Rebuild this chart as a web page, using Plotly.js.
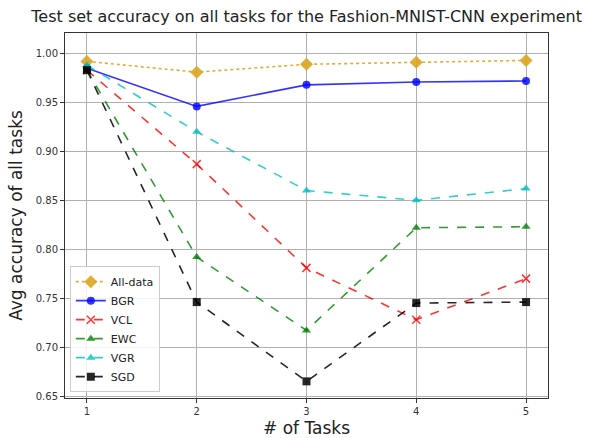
<!DOCTYPE html>
<html>
<head>
<meta charset="utf-8">
<script src="https://cdn.plot.ly/plotly-3.0.1.min.js"></script>
<style>html,body{margin:0;padding:0;background:#fff;}#chart{width:592px;height:438px;}</style>
</head>
<body>
<div id="chart"></div>
<script>
const tasks = [1, 2, 3, 4, 5];
const allData = [0.992, 0.981, 0.989, 0.991, 0.993];
const bgr = [0.985, 0.946, 0.968, 0.971, 0.972];
const vcl = [0.983, 0.887, 0.781, 0.728, 0.770];
const ewc = [0.983, 0.792, 0.717, 0.822, 0.823];
const vgr = [0.988, 0.920, 0.860, 0.850, 0.862];
const sgd = [0.983, 0.746, 0.665, 0.745, 0.746];
const yTicks = [0.65, 0.70, 0.75, 0.80, 0.85, 0.90, 0.95, 1.00];
const yTickText = ["0.65", "0.70", "0.75", "0.80", "0.85", "0.90", "0.95", "1.00"];

function tr(name, y, color, dash, symbol, size) {
  return {
    x: tasks, y: y, name: name, type: 'scatter', mode: 'lines+markers',
    line: {color: color, dash: dash, width: 1.6},
    marker: {color: color, symbol: symbol, size: size, line: {color: color, width: symbol === 'x-thin' ? 1.5 : 0}}
  };
}
const data = [
  tr('All-data', allData, 'rgba(218,165,32,0.9)', 'dot', 'diamond', 10),
  tr('BGR', bgr, 'rgba(0,0,255,0.8)', 'solid', 'circle', 8),
  tr('VCL', vcl, 'rgba(255,0,0,0.8)', 'dash', 'x-thin', 8),
  tr('EWC', ewc, 'rgba(0,128,0,0.8)', 'dash', 'triangle-up', 8),
  tr('VGR', vgr, 'rgba(0,191,191,0.8)', 'dash', 'triangle-up', 8),
  tr('SGD', sgd, 'rgba(0,0,0,0.85)', 'dash', 'square', 8)
];
const layout = {
  width: 592, height: 438,
  margin: {l: 65, r: 44, t: 33, b: 40},
  paper_bgcolor: '#fff', plot_bgcolor: '#fff',
  font: {family: 'DejaVu Sans', size: 10, color: '#333'},
  title: {text: 'Test set accuracy on all tasks for the Fashion-MNIST-CNN experiment', x: 0.518, xanchor: 'center', y: 0.962, yanchor: 'middle', font: {family: 'DejaVu Sans', size: 16, color: '#222'}},
  xaxis: {
    range: [0.8, 5.2], tickvals: tasks, ticktext: tasks.map(String),
    showgrid: true, gridcolor: '#b0b0b0', gridwidth: 1,
    showline: true, linecolor: '#333', linewidth: 1, mirror: true,
    ticks: 'outside', ticklen: 4, tickcolor: '#333', zeroline: false,
    title: {text: '# of Tasks', font: {family: 'DejaVu Sans', size: 17, color: '#222'}, standoff: 8}
  },
  yaxis: {
    range: [0.648, 1.021], tickvals: yTicks, ticktext: yTickText,
    showgrid: true, gridcolor: '#b0b0b0', gridwidth: 1,
    showline: true, linecolor: '#333', linewidth: 1, mirror: true,
    ticks: 'outside', ticklen: 4, tickcolor: '#333', zeroline: false,
    title: {text: 'Avg accuracy of all tasks', font: {family: 'DejaVu Sans', size: 17, color: '#222'}, standoff: 8}
  },
  legend: {
    x: 0.01, y: 0.016, xanchor: 'left', yanchor: 'bottom',
    bgcolor: 'rgba(255,255,255,0.85)', bordercolor: '#ccc', borderwidth: 1,
    font: {family: 'DejaVu Sans', size: 11, color: '#222'},
    tracegroupgap: 0, itemwidth: 30
  },
  showlegend: true
};
Plotly.newPlot('chart', data, layout, {displayModeBar: false, staticPlot: true});
</script>
</body>
</html>
